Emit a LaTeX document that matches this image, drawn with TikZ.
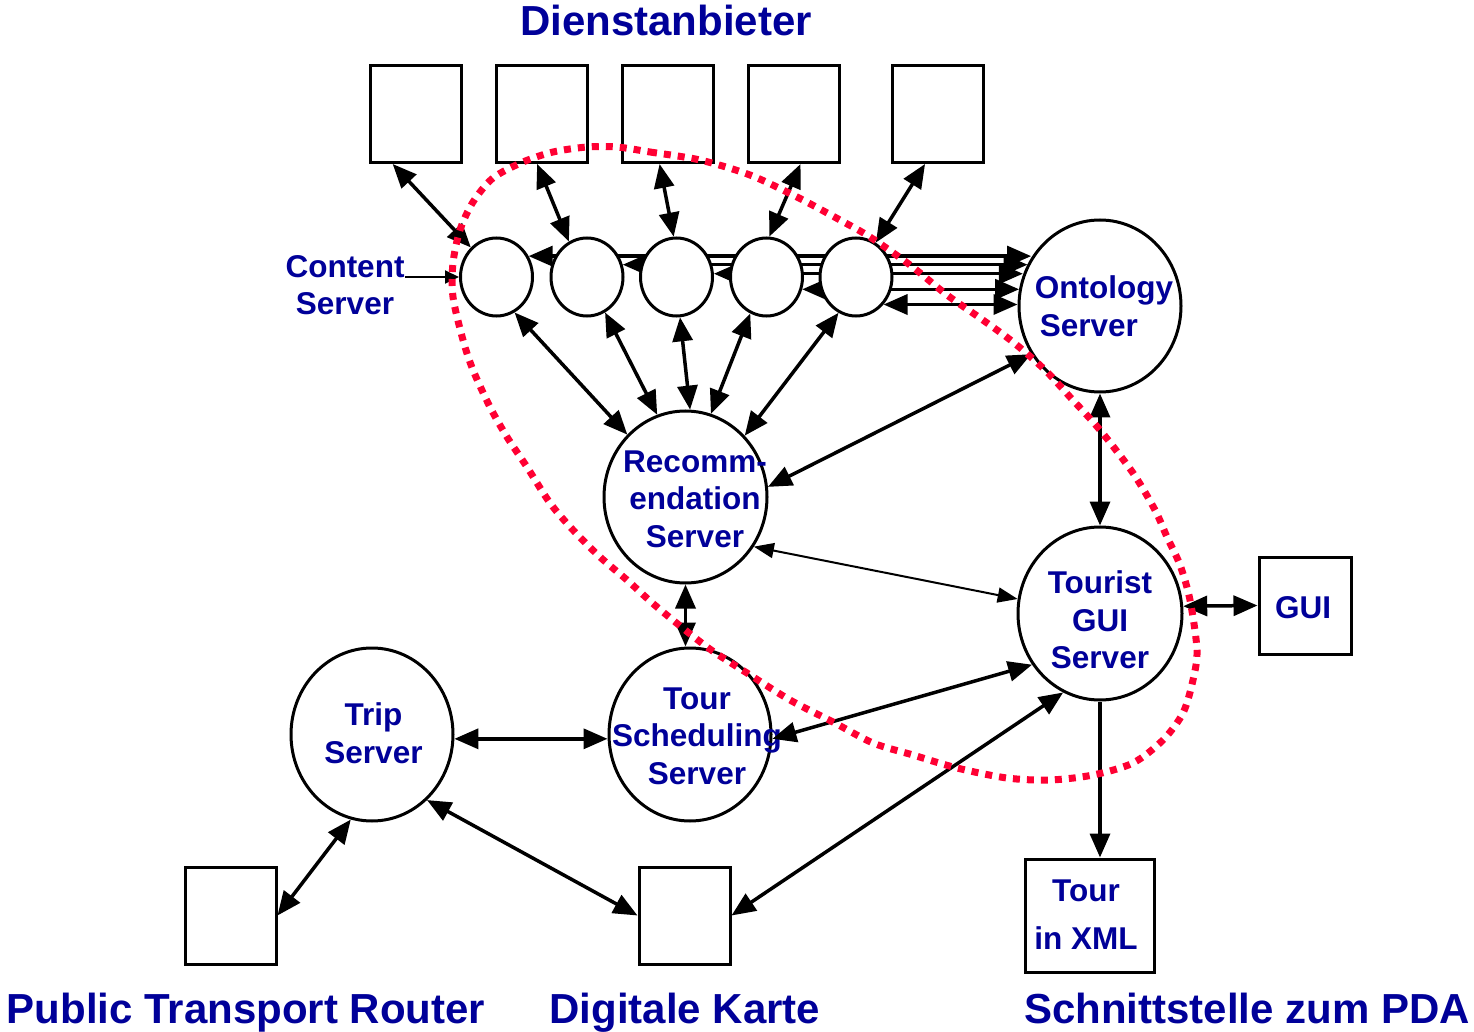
\documentclass[tikz,border=0pt]{standalone}
\usepackage{fontspec}
\setmainfont{Liberation Sans}
\usetikzlibrary{shapes.geometric,arrows.meta,backgrounds}
\newlength{\du}
\setlength{\du}{0.5pt}
\definecolor{labelcolor}{rgb}{0.000000, 0.000000, 0.600000}
\definecolor{regioncolor}{rgb}{1.000000, 0.000000, 0.200000}
\tikzset{
  srv/.style={ellipse, draw=black, fill=white, line width=3\du, inner sep=0pt},
  box/.style={rectangle, draw=black, fill=white, line width=3\du, inner sep=0pt,
    minimum width=91\du, minimum height=97\du},
  txt/.style={text=labelcolor, font=\fontsize{15.75pt}{18.75pt}\selectfont\bfseries,
    align=center, inner sep=0pt},
  heading/.style={text=labelcolor, font=\fontsize{21pt}{25pt}\selectfont\bfseries,
    inner sep=0pt, anchor=base},
  link/.style={line width=3.5\du},
  thinlink/.style={line width=2\du}
}

\begin{document}
\begin{tikzpicture}[>={Triangle[length=12pt,width=10pt]}]
\pgftransformxscale{1.000000}
\pgftransformyscale{-1.000000}
\useasboundingbox (0\du,0\du) rectangle (1474\du,1032\du);
% Dienstanbieter
\node[heading] (t-dienst) at (666\du,36\du){Dienstanbieter};
\node[box] (d1) at (416\du,114\du){};
\node[box] (d2) at (541.5\du,114\du){};
\node[box] (d3) at (667.5\du,114\du){};
\node[box] (d4) at (793.5\du,114\du){};
\node[box] (d5) at (937.5\du,114\du){};
% Content Server
\node[srv, minimum width=72\du, minimum height=78\du] (c1) at (496.5\du,277\du){};
\node[srv, minimum width=72\du, minimum height=78\du] (c2) at (587\du,277\du){};
\node[srv, minimum width=72\du, minimum height=78\du] (c3) at (676.5\du,277\du){};
\node[srv, minimum width=72\du, minimum height=78\du] (c4) at (766.5\du,277\du){};
\node[srv, minimum width=72\du, minimum height=78\du] (c5) at (856\du,277\du){};
\node[txt] (t-content) at (345\du,285\du){Content\\Server};
% Server
\node[srv, minimum width=162\du, minimum height=172\du] (onto) at (1100\du,306\du){};
\node[txt, align=left] (t-onto) at (1104\du,306\du){Ontology\\\hspace*{2.5pt}Server};
\node[srv, minimum width=163\du, minimum height=172\du] (rec) at (685.5\du,497\du){};
\node[txt] (t-rec) at (695\du,499\du){Recomm-\\endation\\Server};
\node[srv, minimum width=164\du, minimum height=173\du] (tg) at (1100\du,613.5\du){};
\node[txt] (t-tg) at (1100\du,620\du){Tourist\\GUI\\Server};
\node[srv, minimum width=162\du, minimum height=173\du] (ts) at (690\du,734.5\du){};
\node[txt] (t-ts) at (697\du,736\du){Tour\\Scheduling\\Server};
\node[srv, minimum width=162\du, minimum height=173\du] (trip) at (372\du,734.5\du){};
\node[txt] (t-trip) at (373.5\du,733\du){Trip\\Server};
% boxes
\node[box, minimum width=92\du] (gui) at (1305\du,605.5\du){};
\node[txt] (t-gui) at (1303\du,608\du){GUI};
\node[box, minimum width=129\du, minimum height=113\du] (xml) at (1089.5\du,915.5\du){};
\node[txt, font=\fontsize{15.75pt}{24pt}\selectfont\bfseries] (t-xml) at (1086\du,915\du){Tour\\in XML};
\node[box] (ptr) at (230.5\du,915.5\du){};
\node[box] (map) at (684.5\du,915.5\du){};
\node[heading] (t-ptr) at (246\du,1023\du){Public Transport Router};
\node[heading] (t-map) at (685\du,1023\du){Digitale Karte};
\node[heading] (t-pda) at (1247\du,1023\du){Schnittstelle zum PDA};
% lines behind the circles
\begin{pgfonlayer}{background}
\draw[link,<->] (c1.33) -- (c1.33 -| onto.145);
\draw[link,<->] (c2.19) -- (c2.19 -| onto.150);
\draw[link,<->] (c3.5) -- (c3.5 -| onto.158);
\draw[link,<->] (c4.-19) -- (c4.-19 -| onto.168);
\draw[link,<->] (c5.-45) -- (c5.-45 -| onto.180);
\end{pgfonlayer}
\draw[link,<->] (d1.-115) -- (c1.131);
\draw[link,<->] (d2.-95) -- (c2.117);
\draw[link,<->] (d3.-99) -- (c3.94);
\draw[link,<->] (d4.-82) -- (c4.86);
\draw[link,<->] (d5.-104) -- (c5.60);
\draw[link,<->] (c1.-63) -- (rec.133);
\draw[link,<->] (c2.-63) -- (rec.109);
\draw[link,<->] (c3.-85) -- (rec.87);
\draw[link,<->] (c4.-114) -- (rec.73);
\draw[link,<->] (c5.-116) -- (rec.46);
\draw[thinlink,-{Triangle[length=7pt,width=6.5pt]}] (t-content.east |- c1.west) -- (c1.west);
\draw[link,<->] (rec.7) -- (onto.215);
\draw[thinlink,{Triangle[length=10pt,width=7.5pt]}-{Triangle[length=10pt,width=7.5pt]}] (rec.-36) -- (tg.170);
\draw[link,<->] (rec.south) -- (rec.south |- ts.north);
\draw[link,<->] (onto.south) -- (onto.south |- tg.north);
\draw[link,<->] (tg.5) -- (gui.west);
\draw[link,->] (tg.south) -- (tg.south |- xml.north);
\draw[link,<->] (ts.-3) -- (tg.217);
\draw[link,<->] (map.east) -- (tg.245);
\draw[link,<->] (trip.-3) -- (trip.-3 -| ts.west);
\draw[link,<->] (ptr.east) -- (trip.256);
\draw[link,<->] (trip.-50) -- (map.west);
% region
\draw[regioncolor, line width=7\du, dash pattern=on 7\du off 7\du] plot[smooth cycle, tension=0.5] coordinates {
(617\du,147\du) (650\du,152\du) (700\du,160\du) (750\du,175\du) (797\du,197\du) (840\du,220\du)
(870\du,237\du) (910\du,265\du) (947\du,295\du) (980\du,318\du) (1013\du,342\du) (1045\du,370\du)
(1070\du,397\du) (1100\du,430\du) (1133\du,473\du) (1155\du,510\du) (1167\du,537\du) (1180\du,565\du)
(1190\du,600\du) (1197\du,650\du) (1193\du,680\du) (1183\du,713\du) (1163\du,740\du) (1133\du,763\du)
(1093\du,775\du) (1050\du,780\du) (1007\du,778\du) (957\du,768\du) (913\du,755\du) (873\du,743\du)
(833\du,722\du) (790\du,700\du) (747\du,673\du) (707\du,647\du) (657\du,607\du) (627\du,580\du)
(600\du,557\du) (573\du,530\du) (550\du,503\du) (527\du,467\du) (507\du,437\du) (490\du,407\du)
(473\du,370\du) (463\du,340\du) (453\du,297\du) (453\du,263\du) (460\du,230\du) (473\du,202\du)
(493\du,178\du) (523\du,162\du) (553\du,152\du) (587\du,147\du)};
\end{tikzpicture}
\end{document}
